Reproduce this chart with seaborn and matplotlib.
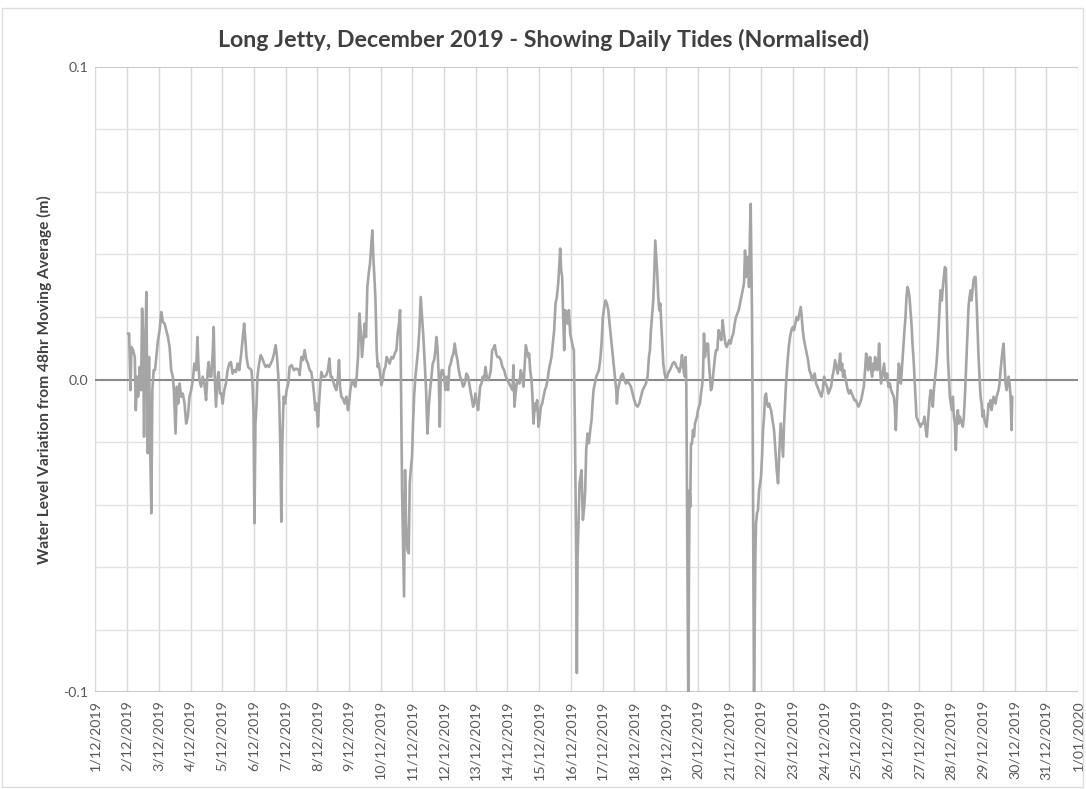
import numpy as np
import pandas as pd
import matplotlib
matplotlib.use("Agg")
import matplotlib.pyplot as plt
import matplotlib.dates as mdates
from matplotlib.ticker import FixedLocator, MultipleLocator, FuncFormatter
from matplotlib.patches import Rectangle
import seaborn as sns

# Readings: time as fractional day of December 2019, level in metres
days = [
    2.02, 2.063, 2.105, 2.136, 2.188, 2.241, 2.272, 2.314, 2.345, 2.397, 2.439, 2.471, 2.502, 2.533,
    2.565, 2.607, 2.649, 2.690, 2.732, 2.764, 2.795, 2.837, 2.879, 2.921, 2.973, 3.025, 3.077,
    3.130, 3.182, 3.234, 3.287, 3.339, 3.391, 3.444, 3.475, 3.527, 3.569, 3.611, 3.653, 3.705,
    3.757, 3.810, 3.862, 3.914, 3.967, 4.019, 4.071, 4.123, 4.176, 4.218, 4.249, 4.280, 4.333,
    4.385, 4.437, 4.490, 4.542, 4.573, 4.615, 4.657, 4.699, 4.730, 4.762, 4.803, 4.856, 4.887,
    4.929, 4.971, 5.013, 5.065, 5.117, 5.169, 5.222, 5.274, 5.326, 5.379, 5.431, 5.483, 5.536,
    5.588, 5.640, 5.692, 5.724, 5.766, 5.818, 5.870, 5.923, 5.954, 5.985, 6.017, 6.048, 6.079,
    6.111, 6.163, 6.215, 6.268, 6.320, 6.372, 6.425, 6.477, 6.529, 6.582, 6.634, 6.686, 6.728,
    6.770, 6.801, 6.833, 6.864, 6.895, 6.937, 6.979, 7.031, 7.084, 7.126, 7.188, 7.262, 7.335,
    7.418,
    7.442, 7.495, 7.547, 7.600, 7.653, 7.705, 7.758, 7.811, 7.863, 7.895, 7.937, 7.979, 8.021,
    8.053, 8.095, 8.126, 8.179, 8.232, 8.284, 8.337, 8.379, 8.421, 8.463, 8.505, 8.547, 8.600,
    8.653, 8.684, 8.716, 8.758, 8.811, 8.863, 8.916, 8.968, 9.000, 9.042, 9.095, 9.147, 9.200,
    9.242, 9.284, 9.326, 9.368, 9.411, 9.453, 9.495, 9.537, 9.579, 9.621, 9.663, 9.705, 9.737,
    9.768, 9.800, 9.832, 9.853, 9.874, 9.905, 9.937, 9.979, 10.021, 10.063, 10.105, 10.147,
    10.189, 10.232, 10.284, 10.337, 10.389, 10.442, 10.495, 10.547, 10.579, 10.611, 10.632,
    10.653, 10.674, 10.705, 10.737, 10.768, 10.800, 10.842, 10.884, 10.916, 10.947, 10.989,
    11.021, 11.053, 11.095, 11.137, 11.179, 11.221, 11.263, 11.305, 11.347, 11.389, 11.432,
    11.474, 11.516, 11.558, 11.600, 11.642, 11.684, 11.726, 11.758, 11.789, 11.832, 11.863,
    11.895, 11.926, 11.958, 12.000, 12.042, 12.084, 12.126, 12.168, 12.211, 12.253, 12.295,
    12.337, 12.379, 12.421, 12.463, 12.505, 12.547, 12.600, 12.653, 12.705, 12.758, 12.811,
    12.863, 12.916,
    12.947, 12.989, 13.032, 13.074, 13.137, 13.179, 13.221, 13.263, 13.305, 13.347, 13.389,
    13.432, 13.474, 13.516, 13.558, 13.600, 13.642, 13.684, 13.737, 13.789, 13.842, 13.895,
    13.947, 14.000, 14.053, 14.105, 14.158, 14.189, 14.221, 14.253, 14.295, 14.337, 14.379,
    14.421, 14.463, 14.505, 14.547, 14.579, 14.611, 14.653, 14.684, 14.716, 14.758, 14.789,
    14.821, 14.863, 14.895, 14.937, 14.979, 15.011, 15.053, 15.095, 15.137, 15.179, 15.221,
    15.263, 15.305, 15.347, 15.389, 15.432, 15.474, 15.516, 15.558, 15.600, 15.632, 15.663,
    15.695, 15.726, 15.758, 15.789, 15.821, 15.853, 15.895, 15.937, 15.979, 16.021, 16.063,
    16.095, 16.126, 16.147, 16.168, 16.189, 16.211, 16.242, 16.274, 16.305, 16.337, 16.379,
    16.421, 16.453, 16.484, 16.526, 16.568, 16.611, 16.653, 16.684, 16.716, 16.758, 16.800,
    16.842, 16.884, 16.926, 16.968, 17.011, 17.053, 17.095, 17.137, 17.179, 17.221, 17.263,
    17.305, 17.347, 17.389, 17.432, 17.453, 17.484, 17.526, 17.579, 17.632, 17.684, 17.737,
    17.789, 17.842, 17.895, 17.947, 18.000, 18.053, 18.105, 18.158, 18.211, 18.263, 18.316,
    18.368, 18.421, 18.463,
    18.495, 18.526, 18.558, 18.600, 18.632, 18.663, 18.695, 18.726, 18.758, 18.789, 18.821,
    18.853, 18.884, 18.916, 18.958, 19.000, 19.042, 19.084, 19.126, 19.168, 19.211, 19.253,
    19.295, 19.337, 19.379, 19.421, 19.463, 19.505, 19.537, 19.568, 19.600, 19.621, 19.642,
    19.663, 19.684, 19.705, 19.726, 19.747, 19.768, 19.789, 19.821, 19.853, 19.884, 19.916,
    19.947, 19.979, 20.011, 20.042, 20.074, 20.105, 20.137, 20.168, 20.200, 20.232, 20.263,
    20.295, 20.326, 20.358, 20.389, 20.421, 20.453, 20.484, 20.516, 20.547, 20.579, 20.621,
    20.663, 20.705, 20.747, 20.789, 20.832, 20.874, 20.916, 20.958, 21.000, 21.042, 21.084,
    21.126, 21.168, 21.211, 21.253, 21.295, 21.337, 21.379, 21.421, 21.463, 21.495, 21.526,
    21.558, 21.589, 21.621, 21.653, 21.674, 21.695, 21.716, 21.737, 21.758, 21.779, 21.800,
    21.821, 21.842, 21.874, 21.905, 21.937, 21.968, 22.000, 22.032, 22.063, 22.095, 22.126,
    22.158, 22.189, 22.221, 22.253, 22.284, 22.316, 22.347, 22.379, 22.411, 22.453, 22.495,
    22.537, 22.579, 22.621, 22.663, 22.695, 22.726, 22.758, 22.789, 22.832, 22.874, 22.916,
    22.958, 23.000, 23.042, 23.084, 23.126, 23.168, 23.211, 23.253, 23.284, 23.316, 23.358,
    23.400, 23.442, 23.484, 23.526, 23.568, 23.611, 23.653, 23.695, 23.737, 23.779, 23.821,
    23.863, 23.905, 23.947, 23.989, 24.032,
    24.084, 24.126, 24.168, 24.211, 24.253, 24.295, 24.337, 24.379, 24.421, 24.463, 24.495,
    24.526, 24.558, 24.589, 24.621, 24.653, 24.695, 24.737, 24.779, 24.821, 24.863, 24.905,
    24.947, 24.989, 25.032, 25.074, 25.116, 25.158, 25.200, 25.242, 25.284, 25.316, 25.347,
    25.379, 25.411, 25.442, 25.474, 25.505, 25.537, 25.568, 25.600, 25.632, 25.663, 25.695,
    25.726, 25.758, 25.789, 25.821, 25.853, 25.884, 25.916, 25.947, 25.979, 26.021, 26.063,
    26.105, 26.147, 26.189, 26.221, 26.253, 26.284, 26.316, 26.347, 26.379, 26.411, 26.442,
    26.484, 26.526, 26.558, 26.589, 26.621, 26.653, 26.684, 26.716, 26.747, 26.779, 26.821,
    26.863, 26.905, 26.947, 26.989, 27.032, 27.074, 27.116, 27.158, 27.200, 27.232, 27.263,
    27.295, 27.326, 27.358, 27.389, 27.421, 27.453, 27.495, 27.537, 27.579, 27.621, 27.663,
    27.705, 27.737, 27.768, 27.800, 27.832, 27.863, 27.895, 27.926, 27.958, 27.989, 28.021,
    28.053, 28.084, 28.116, 28.147, 28.179, 28.211, 28.242, 28.274, 28.305, 28.337, 28.368,
    28.400, 28.442, 28.484, 28.516, 28.547, 28.579, 28.611, 28.642, 28.674, 28.705, 28.737,
    28.768, 28.800, 28.832, 28.863, 28.895, 28.926, 28.958, 28.989, 29.021, 29.053, 29.084,
    29.116, 29.147, 29.179, 29.211, 29.242, 29.274, 29.305, 29.337, 29.368, 29.400, 29.432,
    29.463, 29.495, 29.526, 29.558, 29.589, 29.621, 29.653, 29.684, 29.716, 29.747, 29.779,
    29.811, 29.842, 29.874, 29.905, 29.926,
]

level = [
    0.0147, 0.0147, -0.0034, 0.0104, 0.0094, 0.0072, -0.0098, 0.0009, -0.0055, 0.0040, -0.0034,
    0.0227, 0.0147, -0.0183, 0.0062, 0.0280, -0.0236, 0.0072, -0.0247, -0.0428, -0.0034, 0.0030,
    0.0030, 0.0072, 0.0126, 0.0158, 0.0216, 0.0184, 0.0179, 0.0158, 0.0136, 0.0104, 0.0030,
    0.0007, -0.0034, -0.0173, -0.0023, -0.0077, -0.0013, -0.0055, -0.0045, -0.0077, -0.0141,
    -0.0119, -0.0055, -0.0034, -0.0002, 0.0051, 0.0030, 0.0136, 0.0051, -0.0002, -0.0023,
    0.0009, -0.0013, -0.0066, 0.0030, 0.0056, 0.0009, 0.0009, 0.0083, 0.0168, 0.0009, -0.0087,
    0.0009, 0.0024, -0.0045, -0.0045, -0.0077, -0.0034, -0.0013, 0.0030, 0.0051, 0.0056,
    0.0019, 0.0030, 0.0024, 0.0051, 0.0030, 0.0072, 0.0126, 0.0179, 0.0136, 0.0072, 0.0040,
    0.0035, 0.0030, -0.0013, -0.0098, -0.0460, -0.0141, -0.0087, 0.0009, 0.0051, 0.0078,
    0.0067, 0.0051, 0.0040, 0.0046, 0.0040, 0.0051, 0.0062, 0.0083, 0.0110, 0.0072, 0.0009,
    -0.0077, -0.0215, -0.0455, -0.0204, -0.0055, -0.0077, -0.0034, -0.0013, 0.0040, 0.0046,
    0.0030, 0.0035, 0.0030,
    0.0014, 0.0072, 0.0062, 0.0094, 0.0062, 0.0051, 0.0030, 0.0024, -0.0013, -0.0045, -0.0098,
    -0.0077, -0.0151, -0.0077, -0.0013, 0.0024, 0.0009, 0.0009, 0.0014, 0.0030, 0.0067, 0.0009,
    0.0009, -0.0007, -0.0023, -0.0034, 0.0009, 0.0062, -0.0023, -0.0055, -0.0061, -0.0077,
    -0.0055, -0.0098, -0.0077, -0.0034, -0.0002, -0.0013, -0.0023, 0.0009, 0.0072, 0.0211,
    0.0158, 0.0072, 0.0126, 0.0179, 0.0136, 0.0296, 0.0339, 0.0371, 0.0435, 0.0477, 0.0392,
    0.0328, 0.0264, 0.0179, 0.0094, 0.0040, 0.0051, 0.0019, -0.0018, -0.0002, 0.0030, 0.0040,
    0.0072, 0.0062, 0.0051, 0.0072, 0.0067, 0.0083, 0.0094, 0.0158, 0.0179, 0.0222, 0.0072,
    -0.0141, -0.0354, -0.0513, -0.0694, -0.0290, -0.0460, -0.0545, -0.0556, -0.0332, -0.0290,
    -0.0247, -0.0141, -0.0055, 0.0009, 0.0051, 0.0094, 0.0158, 0.0264, 0.0200, 0.0136, 0.0051,
    -0.0034, -0.0173, -0.0087, -0.0034, 0.0009, 0.0051, 0.0062, 0.0094, 0.0136, 0.0104, 0.0009,
    -0.0151, 0.0009, 0.0030, 0.0030, 0.0009, -0.0034, 0.0009, -0.0034, 0.0040, 0.0051, 0.0072,
    0.0083, 0.0115, 0.0083, 0.0062, 0.0030, 0.0009, -0.0002, -0.0023, -0.0013, 0.0019, 0.0009,
    -0.0023, -0.0055, -0.0087,
    -0.0077, -0.0045, -0.0077, -0.0098, -0.0023, -0.0013, 0.0009, -0.0002, 0.0040, 0.0009,
    -0.0002, 0.0009, 0.0030, 0.0094, 0.0099, 0.0110, 0.0083, 0.0072, 0.0072, 0.0062, 0.0040,
    0.0030, 0.0009, -0.0002, -0.0013, -0.0023, -0.0034, 0.0046, -0.0087, -0.0045, -0.0013,
    -0.0002, -0.0013, 0.0030, 0.0009, -0.0023, 0.0051, 0.0110, 0.0094, 0.0072, 0.0083, 0.0030,
    -0.0002, -0.0055, -0.0141, -0.0077, -0.0098, -0.0066, -0.0151, -0.0130, -0.0087, -0.0077,
    -0.0055, -0.0034, -0.0023, -0.0002, 0.0030, 0.0051, 0.0072, 0.0115, 0.0158, 0.0243, 0.0264,
    0.0307, 0.0360, 0.0419, 0.0349, 0.0328, 0.0200, 0.0094, 0.0222, 0.0211, 0.0179, 0.0222,
    0.0147, 0.0126, 0.0104, 0.0094, -0.0141, -0.0354, -0.0567, -0.0939, -0.0567, -0.0460,
    -0.0332, -0.0311, -0.0290, -0.0449, -0.0407, -0.0354, -0.0226, -0.0173, -0.0204, -0.0162,
    -0.0130, -0.0077, -0.0034, -0.0013, 0.0009, 0.0019, 0.0030, 0.0062, 0.0115, 0.0200, 0.0232,
    0.0253, 0.0243, 0.0222, 0.0179, 0.0136, 0.0094, 0.0051, 0.0009, -0.0034, -0.0077, -0.0034,
    -0.0013, 0.0009, 0.0019, -0.0002, -0.0013, -0.0007, -0.0013, -0.0023, -0.0045, -0.0066,
    -0.0082, -0.0087, -0.0077, -0.0055, -0.0034, -0.0023, -0.0013, 0.0009, 0.0072,
    0.0094, 0.0158, 0.0199, 0.0253, 0.0339, 0.0445, 0.0392, 0.0339, 0.0264, 0.0222, 0.0243,
    0.0179, 0.0115, 0.0051, 0.0019, -0.0002, 0.0009, 0.0024, 0.0030, 0.0040, 0.0051, 0.0056,
    0.0051, 0.0040, 0.0035, 0.0024, 0.0040, 0.0078, 0.0051, 0.0019, 0.0009, 0.0072, -0.0013,
    -0.0354, -0.0673, -0.1035, -0.0620, -0.0354, -0.0407, -0.0206, -0.0206, -0.0162, -0.0183,
    -0.0141, -0.0130, -0.0119, -0.0098, -0.0087, -0.0077, -0.0045, -0.0023, 0.0009, 0.0147,
    0.0072, 0.0115, 0.0094, 0.0115, 0.0051, 0.0009, -0.0034, -0.0023, 0.0009, 0.0040, 0.0072,
    0.0094, 0.0094, 0.0158, 0.0136, 0.0126, 0.0190, 0.0147, 0.0115, 0.0104, 0.0115, 0.0126,
    0.0115, 0.0136, 0.0147, 0.0179, 0.0200, 0.0211, 0.0222, 0.0243, 0.0264, 0.0285, 0.0307,
    0.0413, 0.0328, 0.0360, 0.0392, 0.0296, 0.0477, 0.0562, 0.0392, 0.0200, -0.0141, -0.0567,
    -0.1035, -0.0812, -0.0567, -0.0460, -0.0428, -0.0417, -0.0354, -0.0332, -0.0311, -0.0247,
    -0.0162, -0.0119, -0.0055, -0.0045, -0.0077, -0.0087, -0.0077, -0.0087, -0.0098, -0.0119,
    -0.0141, -0.0162, -0.0226, -0.0290, -0.0332, -0.0226, -0.0141, -0.0204, -0.0247, -0.0141,
    -0.0077, -0.0013, 0.0051, 0.0104, 0.0136, 0.0158, 0.0168, 0.0158, 0.0179, 0.0200, 0.0190,
    0.0211, 0.0232, 0.0200, 0.0158, 0.0126, 0.0104, 0.0083, 0.0062, 0.0030, 0.0019, -0.0002,
    0.0009, 0.0019, -0.0013, -0.0023, -0.0034, -0.0045, -0.0055, -0.0034, 0.0009, -0.0013,
    -0.0023, -0.0045, -0.0034, -0.0023, 0.0009, 0.0030, 0.0062, 0.0040, 0.0019, 0.0051, 0.0083,
    0.0030, 0.0051, 0.0009, 0.0030, 0.0009, -0.0013, -0.0034, -0.0045, -0.0034, -0.0045,
    -0.0055, -0.0066, -0.0066, -0.0077, -0.0087, -0.0077, -0.0066, -0.0045, -0.0023, 0.0030,
    0.0083, 0.0072, 0.0030, 0.0040, 0.0072, 0.0030, 0.0009, 0.0051, 0.0030, 0.0072, 0.0040,
    0.0030, 0.0051, 0.0115, 0.0030, -0.0013, 0.0009, 0.0030, 0.0051, 0.0009, -0.0002, 0.0019,
    -0.0023, -0.0013, -0.0034, -0.0045, -0.0055, -0.0087, -0.0162, -0.0077, -0.0013, 0.0051,
    0.0030, -0.0013, 0.0030, 0.0094, 0.0158, 0.0199, 0.0264, 0.0296, 0.0285, 0.0264, 0.0222,
    0.0179, 0.0115, 0.0051, -0.0034, -0.0119, -0.0130, -0.0141, -0.0151, -0.0141, -0.0141,
    -0.0119, -0.0162, -0.0183, -0.0141, -0.0098, -0.0055, -0.0034, -0.0055, -0.0087, -0.0034,
    0.0009, 0.0051, 0.0115, 0.0200, 0.0285, 0.0253, 0.0296, 0.0328, 0.0360, 0.0355, 0.0222,
    0.0072, 0.0009, -0.0055, -0.0077, -0.0098, -0.0055, -0.0119, -0.0141, -0.0226, -0.0119,
    -0.0098, -0.0141, -0.0119, -0.0130, -0.0141, -0.0151, -0.0119, -0.0034, 0.0072, 0.0158,
    0.0232, 0.0264, 0.0285, 0.0253, 0.0285, 0.0317, 0.0328, 0.0328, 0.0253, 0.0158, 0.0072,
    0.0009, -0.0055, -0.0077, -0.0119, -0.0098, -0.0130, -0.0141, -0.0151, -0.0119, -0.0077,
    -0.0087, -0.0066, -0.0098, -0.0077, -0.0055, -0.0066, -0.0077, -0.0055, -0.0045, -0.0034,
    -0.0013, 0.0030, 0.0062, 0.0094, 0.0115, 0.0051, -0.0013, -0.0034, -0.0013, 0.0009,
    -0.0013, -0.0055, -0.0162, -0.0055,
]

tick_days = pd.date_range("2019-12-01", "2020-01-01", freq="D")
y_major = [-0.1, 0.0, 0.1]
y_labels = ["-0.1", "0.0", "0.1"]

title = "Long Jetty, December 2019 - Showing Daily Tides (Normalised)"
ylabel = "Water Level Variation from 48hr Moving Average (m)"

start = pd.Timestamp("2019-12-01")
df = pd.DataFrame({
    "time": start + pd.to_timedelta(np.array(days) - 1.0, unit="D"),
    "level": level,
})

sns.set_theme(style="white")
plt.rcParams["font.family"] = ["Lato", "DejaVu Sans"]

fig = plt.figure(figsize=(10.86, 7.89), dpi=100)
ax = fig.add_axes([0.0879, 0.1229, 0.9047, 0.7922])

# chart-area frame
fig.patches.append(Rectangle((0.002, 0.002), 0.995, 0.988, transform=fig.transFigure,
                             fill=False, edgecolor="#dedede", linewidth=1.0))

ax.axhline(0.0, color="#8a8a8a", linewidth=1.5, zorder=2)
sns.lineplot(data=df, x="time", y="level", ax=ax, color="#a5a5a5",
             linewidth=1.9, zorder=3, estimator=None)

ax.set_xlim(tick_days[0], tick_days[-1])
ax.set_ylim(-0.1, 0.1)

ax.xaxis.set_major_locator(FixedLocator(mdates.date2num(tick_days)))
ax.xaxis.set_major_formatter(FuncFormatter(
    lambda v, p: (lambda d: f"{d.day}/{d.month:02d}/{d.year}")(mdates.num2date(v))))
ax.set_yticks(y_major)
ax.set_yticklabels(y_labels)
ax.yaxis.set_minor_locator(MultipleLocator(0.02))

ax.grid(True, which="major", axis="x", color="#d9d9d9", linewidth=1.0)
ax.grid(True, which="minor", axis="y", color="#e3e3e3", linewidth=1.0)
ax.grid(True, which="major", axis="y", color="#bdbdbd", linewidth=1.2)
ax.set_axisbelow(True)

for s in ax.spines.values():
    s.set_visible(False)

ax.tick_params(axis="x", which="both", length=0, labelsize=10.3, colors="#595959",
               labelrotation=90, pad=6)
ax.tick_params(axis="y", which="both", length=0, labelsize=10.3, colors="#595959", pad=5)

ax.set_xlabel("")
ax.set_ylabel(ylabel, fontsize=11.2, fontweight="bold", color="#404040", labelpad=8)
fig.text(0.5, 0.949, title, ha="center", va="center", fontsize=16.7,
         fontweight="bold", color="#404040")

fig.savefig("out.png", dpi=100, facecolor="white")
